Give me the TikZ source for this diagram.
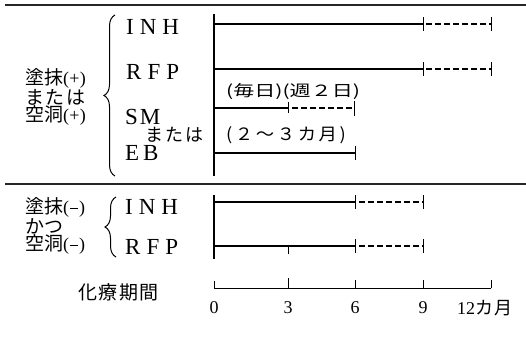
\documentclass[tikz,border=0pt]{standalone}
\usepackage{fontspec}
\newfontfamily\jp{Noto Sans CJK JP}
\newfontfamily\jpa{Noto Sans CJK JP}[LetterSpace=8]
\newfontfamily\jpb{Noto Sans CJK JP}[LetterSpace=12]
\newfontfamily\jpc{Noto Sans CJK JP}[LetterSpace=14]
\newfontfamily\lat{Liberation Serif}
\usetikzlibrary{decorations.pathreplacing}
\begin{document}
\begin{tikzpicture}[x=1pt,y=-1pt,
  rule/.style={line width=1.1pt, black!85},
  vbar/.style={line width=2.2pt},
  bar/.style={line width=1.6pt},
  dashbar/.style={line width=1.5pt, dash pattern=on 6pt off 3pt},
  tk/.style={line width=1pt},
  axis/.style={line width=0.9pt},
  lt/.style={font=\lat\fontsize{23}{23}\selectfont, inner sep=0pt, anchor=west},
  jlab/.style={font=\jp\fontsize{16}{16}\selectfont, inner sep=0pt, anchor=west},
  grp/.style={font=\jp\fontsize{19}{17.5}\selectfont, inner sep=0pt, anchor=west, align=left},
  num/.style={font=\lat\fontsize{18}{18}\selectfont, inner sep=0pt},
  brc/.style={decorate, decoration={brace, amplitude=11pt}, line width=1pt}]
\useasboundingbox (0,0) rectangle (526,342);
\newcommand{\myplus}{{\lat\fontsize{18}{18}\selectfont\raisebox{0.5pt}{(\kern0.3pt+\kern0.3pt)}}}
\newcommand{\myminus}{{\lat\fontsize{18}{18}\selectfont\raisebox{0.5pt}{(\kern1pt\rule[4.8pt]{8pt}{0.8pt}\kern1pt)}}}
\newcommand{\mygap}{\hspace{6pt}}
% rules
\coordinate (r1a) at (5,5); \coordinate (r1b) at (526,5);
\coordinate (r2a) at (5,184); \coordinate (r2b) at (526,184);
\draw[rule] (r1a) -- (r1b);
\draw[rule] (r2a) -- (r2b);
% upper group labels
\node[grp] (up) at (25,97) {塗抹\myplus\\{\jpa または}\\空洞\myplus};
\coordinate (ub1) at (115,176); \coordinate (ub2) at (115,15);
\draw[brc] (ub1) -- (ub2);
\node[lt] (inh) at (126,27) {I\mygap N\mygap H};
\node[lt] (rfp) at (126,72) {R\mygap F\mygap P};
\node[lt] (sm) at (125,117) {S\hspace{2pt}M};
\node[jlab, font=\jpb\fontsize{18}{18}\selectfont] (mata) at (145,135) {または};
\node[lt] (eb) at (125,153) {E\hspace{4pt}B};
% upper vertical
\coordinate (uv1) at (214,14); \coordinate (uv2) at (214,176);
\draw[vbar] (uv1) -- (uv2);
% INH
\coordinate (a0) at (214,24); \coordinate (a9) at (423,24); \coordinate (a12) at (491,24);
\draw[bar] (a0) -- (a9);
\draw[tk] ([yshift=-7pt]a9) -- ([yshift=7pt]a9);
\draw[dashbar] ([xshift=3pt]a9) -- (a12);
\draw[tk] ([yshift=-7pt]a12) -- ([yshift=7pt]a12);
% RFP
\coordinate (b0) at (214,69); \coordinate (b9) at (423,69); \coordinate (b12) at (491,69);
\draw[bar] (b0) -- (b9);
\draw[tk] ([yshift=-7pt]b9) -- ([yshift=7pt]b9);
\draw[dashbar] ([xshift=3pt]b9) -- (b12);
\draw[tk] ([yshift=-7pt]b12) -- ([yshift=7pt]b12);
% SM
\node[jlab, font=\jp\fontsize{15.5}{16}\selectfont] (freq) at (226,92) {\scalebox{1.36}[1]{(毎日)(週２日)}};
\coordinate (c0) at (214,108); \coordinate (c3) at (288,108); \coordinate (c6) at (354,108);
\draw[bar] (c0) -- (c3);
\draw[tk] ([yshift=6pt]c3) -- ([yshift=-5pt]c3);
\draw[dashbar] ([xshift=4pt]c3) -- (c6);
\draw[tk] ([yshift=7pt]c6) -- ([yshift=-8pt]c6);
% EB
\node[jlab, font=\jpc\fontsize{17}{17}\selectfont] (dur) at (226,135) {\scalebox{1.08}[1]{(２～３カ月)}};
\coordinate (d0) at (214,153); \coordinate (d6) at (355,153);
\draw[bar] (d0) -- (d6);
\draw[tk] ([yshift=-7pt]d6) -- ([yshift=7pt]d6);
% lower group
\node[grp] (lo) at (25,226) {塗抹\myminus\\かつ\\空洞\myminus};
\coordinate (lb1) at (116,257); \coordinate (lb2) at (116,197);
\draw[brc] (lb1) -- (lb2);
\node[lt] (inh2) at (125,207) {I\mygap N\mygap H};
\node[lt] (rfp2) at (125,247) {R\mygap F\mygap P};
\coordinate (lv1) at (214,195); \coordinate (lv2) at (214,259);
\draw[vbar] (lv1) -- (lv2);
\coordinate (e0) at (214,202); \coordinate (e6) at (355,202); \coordinate (e9) at (423,202);
\draw[bar] (e0) -- (e6);
\draw[tk] ([yshift=-7pt]e6) -- ([yshift=7pt]e6);
\draw[dashbar] ([xshift=4pt]e6) -- (e9);
\draw[tk] ([yshift=-7pt]e9) -- ([yshift=7pt]e9);
\coordinate (f0) at (214,246); \coordinate (f3) at (288,246); \coordinate (f6) at (355,246); \coordinate (f9) at (423,246);
\draw[bar] (f0) -- (f6);
\draw[tk] ([yshift=-8pt]f3) -- (f3);
\draw[tk] ([yshift=-7pt]f6) -- ([yshift=7pt]f6);
\draw[dashbar] ([xshift=4pt]f6) -- (f9);
\draw[tk] ([yshift=-7pt]f9) -- ([yshift=7pt]f9);
% axis
\node[jlab, font=\jpa\fontsize{19}{19}\selectfont] (kr) at (78,292) {化療期間};
\coordinate (x0) at (214,288); \coordinate (x3) at (288,288); \coordinate (x6) at (355,288);
\coordinate (x9) at (423,288); \coordinate (x12) at (491,288);
\draw[axis] (x0) -- (x12);
\foreach \p/\h in {x0/7,x3/10,x6/8,x9/8,x12/8} \draw[tk] (\p) -- ++(0,-\h);
\node[num] (n0) at (214,308) {0};
\node[num] (n3) at (288,308) {3};
\node[num] (n6) at (355,308) {6};
\node[num] (n9) at (423,308) {9};
\node[num, anchor=west] (n12) at (457,308) {12{\jpa\fontsize{18}{18}\selectfont カ月}};
\end{tikzpicture}
\end{document}
